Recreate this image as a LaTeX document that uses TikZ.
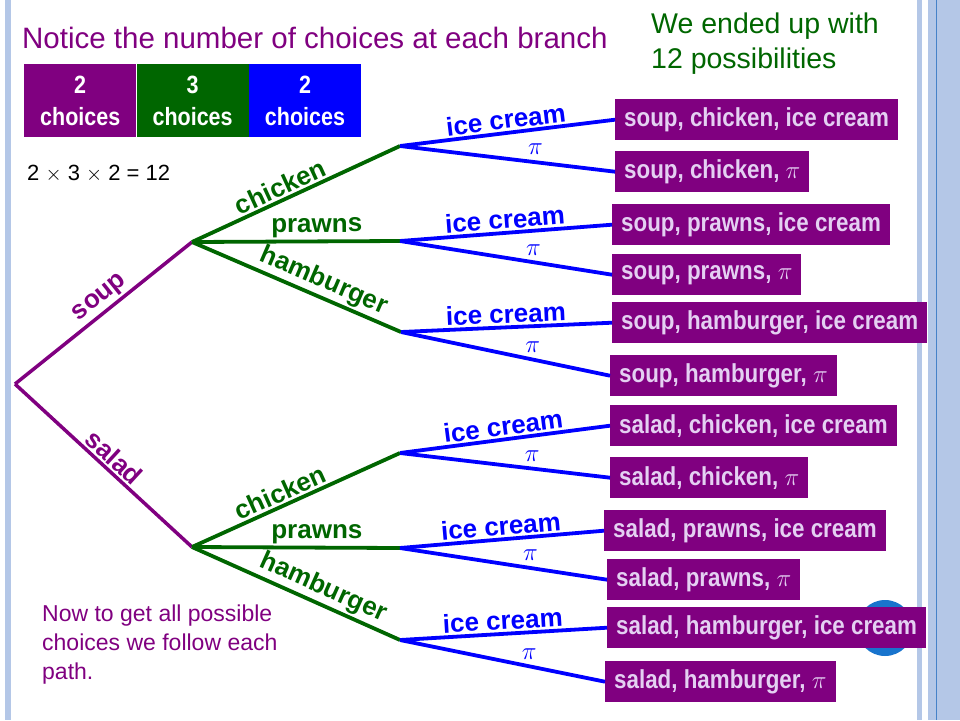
\documentclass[tikz,border=0pt]{standalone}
\usepackage{fontspec}
\setmainfont{Liberation Sans}
\newfontfamily\narrowfont[FakeStretch=0.86]{Liberation Sans}
\usetikzlibrary{positioning}
\definecolor{menupurple}{RGB}{128,0,128}
\definecolor{menugreen}{RGB}{0,102,0}
\definecolor{menublue}{RGB}{0,0,255}
\definecolor{boxtext}{RGB}{228,208,242}
\definecolor{slideedge}{RGB}{180,199,231}
\definecolor{edgeline}{RGB}{70,130,200}
\definecolor{dotblue}{RGB}{24,116,205}

\begin{document}
\begin{tikzpicture}[x=1pt, y=-1pt,
    starter/.style={line width=3.5pt, menupurple},
    mainline/.style={line width=3.8pt, menugreen},
    dessert/.style={line width=3.8pt, menublue},
    lbl/.style={font=\fontsize{26}{30}\selectfont\bfseries, sloped, above, inner sep=2pt},
    pilbl/.style={font=\fontsize{26}{30}\selectfont, above=2pt},
    meal/.style={anchor=north west, fill=menupurple, text=boxtext, minimum height=41pt, inner xsep=9pt, font=\narrowfont\fontsize{26}{30}\selectfont\bfseries},
    count/.style={minimum width=112pt, minimum height=73pt, text=white, align=center, inner sep=0pt, font=\narrowfont\fontsize{25}{32}\selectfont\bfseries}
]
\useasboundingbox (0,0) rectangle (960,720);
\fill[slideedge] (5,0) rectangle (11,720);
\fill[slideedge] (917,0) rectangle (922,720);
\fill[slideedge] (928,0) rectangle (960,720);
\draw[edgeline, line width=1pt] (936,0) -- (936,720);

\node[text=menupurple, font=\fontsize{29.5}{32}\selectfont, anchor=base west, inner sep=0pt] (notice) at (22,48) {Notice the number of choices at each branch};
\node[text=menugreen, font=\fontsize{28.5}{35}\selectfont, align=left, anchor=north west, inner sep=0pt] (ended) at (651,13) {We ended up with\\12 possibilities};

\node[count, fill=menupurple, anchor=north west] (two1) at (24,64) {2\\choices};
\node[count, fill=menugreen, right=0pt of two1] (three) {3\\choices};
\node[count, fill=menublue, right=0pt of three] (two2) {2\\choices};
\node[font=\fontsize{22}{26}\selectfont, anchor=base west, inner sep=0pt] (product) at (27,180) {2 $\times$ 3 $\times$ 2 = 12};
\node[text=menupurple, font=\fontsize{23}{29}\selectfont, align=left, anchor=north west, inner sep=0pt] (note) at (42,605) {Now to get all possible\\choices we follow each\\path.};

\fill[dotblue] (885,628) circle (28);

\coordinate (root) at (15,384);
\coordinate (soup) at (192,242);
\coordinate (salad) at (192,547);
\coordinate (sc) at (400,146);
\coordinate (sp) at (400,241);
\coordinate (sh) at (401,332);
\coordinate (lc) at (400,453);
\coordinate (lp) at (400,548);
\coordinate (lh) at (400,640);

\node[meal] (r1) at (615,99) {soup, chicken, ice cream};
\node[meal] (r2) at (615,151) {soup, chicken, $\pi$};
\node[meal] (r3) at (612,204) {soup, prawns, ice cream};
\node[meal] (r4) at (612,254) {soup, prawns, $\pi$};
\node[meal] (r5) at (612,302) {soup, hamburger, ice cream};
\node[meal] (r6) at (610,355) {soup, hamburger, $\pi$};
\node[meal] (r7) at (610,405) {salad, chicken, ice cream};
\node[meal] (r8) at (610,457) {salad, chicken, $\pi$};
\node[meal] (r9) at (604,510) {salad, prawns, ice cream};
\node[meal] (r10) at (607,559) {salad, prawns, $\pi$};
\node[meal] (r11) at (607,607) {salad, hamburger, ice cream};
\node[meal] (r12) at (605,661) {salad, hamburger, $\pi$};

\draw[starter] (root) -- node[lbl, pos=.53] {soup} (soup);
\draw[starter] (root) -- node[lbl, pos=.51] {salad} (salad);

\draw[mainline] (soup) -- node[lbl, pos=.45] {chicken} (sc);
\draw[mainline] (soup) -- node[lbl, pos=.6] {prawns} (sp);
\draw[mainline] (soup) -- node[lbl, pos=.6] {hamburger} (sh);
\draw[mainline] (salad) -- node[lbl, pos=.45] {chicken} (lc);
\draw[mainline] (salad) -- node[lbl, pos=.6] {prawns} (lp);
\draw[mainline] (salad) -- node[lbl, pos=.6] {hamburger} (lh);

\draw[dessert] (sc) -- node[lbl, pos=.5] {ice cream} (r1.west);
\draw[dessert] (sc) -- node[pilbl, pos=.63] {$\pi$} (r2.west);
\draw[dessert] (sp) -- node[lbl, pos=.5] {ice cream} (r3.west);
\draw[dessert] (sp) -- node[pilbl, pos=.63] {$\pi$} (r4.west);
\draw[dessert] (sh) -- node[lbl, pos=.5] {ice cream} (r5.west);
\draw[dessert] (sh) -- node[pilbl, pos=.63] {$\pi$} (r6.west);
\draw[dessert] (lc) -- node[lbl, pos=.5] {ice cream} (r7.west);
\draw[dessert] (lc) -- node[pilbl, pos=.63] {$\pi$} (r8.west);
\draw[dessert] (lp) -- node[lbl, pos=.5] {ice cream} (r9.west);
\draw[dessert] (lp) -- node[pilbl, pos=.63] {$\pi$} (r10.west);
\draw[dessert] (lh) -- node[lbl, pos=.5] {ice cream} (r11.west);
\draw[dessert] (lh) -- node[pilbl, pos=.63] {$\pi$} (r12.west);
\end{tikzpicture}
\end{document}
